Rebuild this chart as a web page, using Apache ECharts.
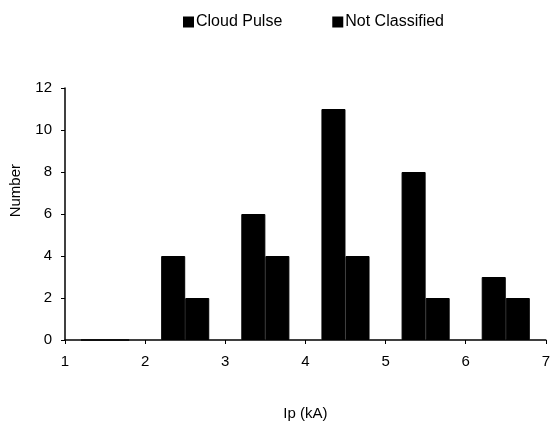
<!DOCTYPE html>
<html><head><meta charset="utf-8">
<script src="https://cdn.jsdelivr.net/npm/echarts@6/dist/echarts.min.js"></script>
<style>html,body{margin:0;padding:0;background:#fff}#c{width:553px;height:434px}</style>
</head><body><div id="c"></div>
<script>
var bins = ['1-2', '2-3', '3-4', '4-5', '5-6', '6-7'];
var cloudPulse = [0, 4, 6, 11, 8, 3];
var notClassified = [0, 2, 4, 4, 2, 2];
var xMin = 1, xMax = 7, yMax = 12;

var font = 'Liberation Sans, Arial, sans-serif';
var chart = echarts.init(document.getElementById('c'));
chart.setOption({
  animation: false,
  backgroundColor: '#fff',
  textStyle: { fontFamily: font },
  legend: {
    top: 9, left: 178, itemGap: 50, itemWidth: 9, itemHeight: 9,
    icon: 'rect',
    textStyle: { fontFamily: font, fontSize: 16, color: '#000', padding: [0, 0, 0, -2] },
    data: ['Cloud Pulse', 'Not Classified']
  },
  grid: { left: 65, right: 6, top: 88, bottom: 94 },
  graphic: [{
    type: 'text', left: 8, top: 164, rotation: Math.PI / 2,
    style: { text: 'Number', font: '15px ' + font, fill: '#000' }
  }],
  xAxis: [
    { type: 'category', data: bins, show: false, boundaryGap: true },
    { type: 'value', min: xMin, max: xMax, interval: 1, position: 'bottom',
      name: 'Ip (kA)', nameLocation: 'middle', nameGap: 66,
      nameTextStyle: { fontFamily: font, fontSize: 15, color: '#000' },
      axisLine: { show: true, lineStyle: { color: '#000', width: 1.5 } },
      axisTick: { show: true, length: 4, lineStyle: { color: '#000' } },
      axisLabel: { fontFamily: font, fontSize: 15, color: '#000', margin: 14 },
      splitLine: { show: false } }
  ],
  yAxis: {
    type: 'value', min: 0, max: yMax, interval: 2,
    axisLine: { show: true, lineStyle: { color: '#000', width: 1.5 } },
    axisTick: { show: true, length: 4, lineStyle: { color: '#000' } },
    axisLabel: { fontFamily: font, fontSize: 15, color: '#000', margin: 13 },
    splitLine: { show: false }
  },
  series: [
    { name: 'Cloud Pulse', type: 'bar', xAxisIndex: 0, data: cloudPulse,
      barGap: '0%', barCategoryGap: '40%',
      itemStyle: { color: '#000', borderColor: '#000', borderWidth: 1 } },
    { name: 'Not Classified', type: 'bar', xAxisIndex: 0, data: notClassified,
      barGap: '0%', barCategoryGap: '40%',
      itemStyle: { color: '#000', borderColor: '#000', borderWidth: 1 } }
  ]
});
</script></body></html>
